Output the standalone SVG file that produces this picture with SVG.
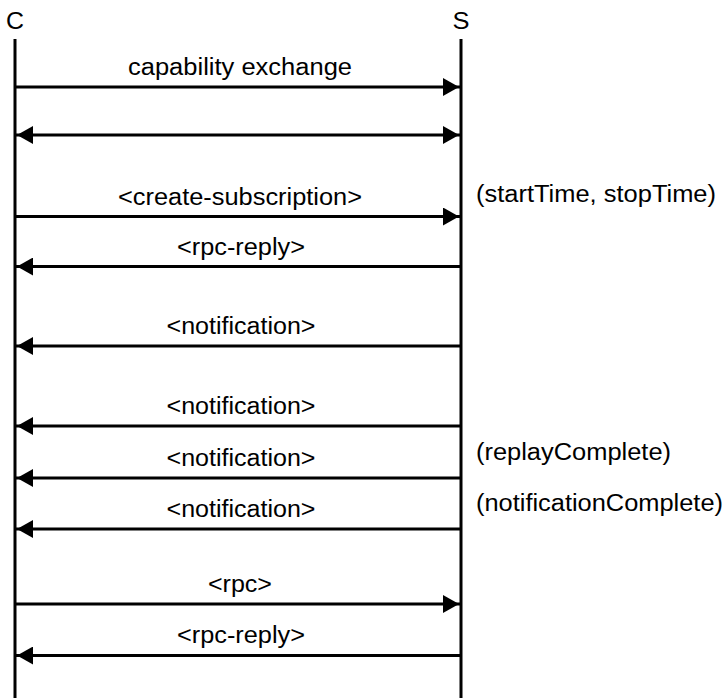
<svg xmlns="http://www.w3.org/2000/svg" width="725" height="698" viewBox="0 0 725 698">
<style>
text{font-family:"Liberation Sans",Arial,sans-serif;font-size:23px;fill:#000;}
.m{text-anchor:middle;}
.life{stroke:#000;stroke-width:3;fill:none;}
.msg{stroke:#000;stroke-width:3;fill:none;marker-end:url(#ah);}
.both{marker-start:url(#ah);}
</style>
<defs>
<marker id="ah" viewBox="0 0 18 18" refX="18" refY="9" markerWidth="18" markerHeight="18" markerUnits="userSpaceOnUse" orient="auto-start-reverse">
<path d="M0,0 L16,9 L0,18 Z" fill="#000"/>
</marker>
</defs>
<rect width="725" height="698" fill="#fff"/>
<g id="C">
<text class="m" x="15" y="29" textLength="18" lengthAdjust="spacingAndGlyphs">C</text>
<line class="life" x1="15" y1="39" x2="15" y2="698"/>
</g>
<g id="S">
<text class="m" x="461" y="29" textLength="17" lengthAdjust="spacingAndGlyphs">S</text>
<line class="life" x1="461" y1="39" x2="461" y2="698"/>
</g>
<g id="connectors">
<line class="msg" x1="15" y1="87" x2="461" y2="87"/>
<line class="msg both" x1="15" y1="135" x2="461" y2="135"/>
<line class="msg" x1="15" y1="216.5" x2="461" y2="216.5"/>
<line class="msg" x1="461" y1="266.5" x2="15" y2="266.5"/>
<line class="msg" x1="461" y1="346" x2="15" y2="346"/>
<line class="msg" x1="461" y1="426" x2="15" y2="426"/>
<line class="msg" x1="461" y1="478" x2="15" y2="478"/>
<line class="msg" x1="461" y1="529" x2="15" y2="529"/>
<line class="msg" x1="15" y1="604" x2="461" y2="604"/>
<line class="msg" x1="461" y1="655.5" x2="15" y2="655.5"/>
</g>
<g id="labels">
<text class="m" x="240" y="75" textLength="224" lengthAdjust="spacingAndGlyphs">capability exchange</text>
<text class="m" x="240" y="205" textLength="244" lengthAdjust="spacingAndGlyphs">&lt;create-subscription&gt;</text>
<text class="m" x="241" y="255" textLength="128" lengthAdjust="spacingAndGlyphs">&lt;rpc-reply&gt;</text>
<text class="m" x="241" y="334" textLength="149" lengthAdjust="spacingAndGlyphs">&lt;notification&gt;</text>
<text class="m" x="241" y="414" textLength="149" lengthAdjust="spacingAndGlyphs">&lt;notification&gt;</text>
<text class="m" x="241" y="466" textLength="149" lengthAdjust="spacingAndGlyphs">&lt;notification&gt;</text>
<text class="m" x="241" y="517" textLength="149" lengthAdjust="spacingAndGlyphs">&lt;notification&gt;</text>
<text class="m" x="240" y="592" textLength="64" lengthAdjust="spacingAndGlyphs">&lt;rpc&gt;</text>
<text class="m" x="241" y="643" textLength="128" lengthAdjust="spacingAndGlyphs">&lt;rpc-reply&gt;</text>
<text x="476" y="202" textLength="240" lengthAdjust="spacingAndGlyphs">(startTime, stopTime)</text>
<text x="476" y="460" textLength="195" lengthAdjust="spacingAndGlyphs">(replayComplete)</text>
<text x="476" y="511" textLength="247" lengthAdjust="spacingAndGlyphs">(notificationComplete)</text>
</g>
</svg>
